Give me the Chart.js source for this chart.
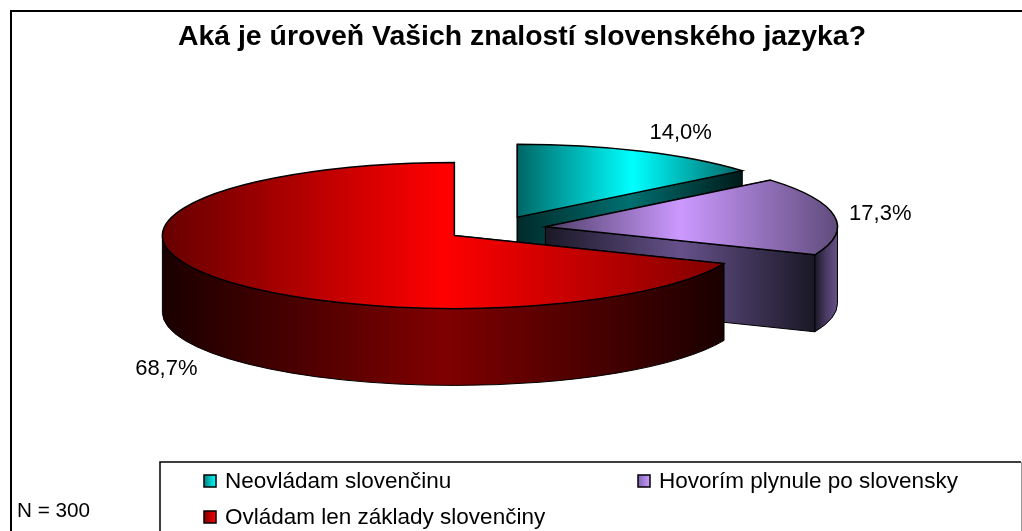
<!DOCTYPE html>
<html>
<head>
<meta charset="utf-8">
<title>Úroveň znalosti slovenského jazyka</title>
<script src="https://cdn.jsdelivr.net/npm/chart.js@4"></script>
<style>
    html, body { margin: 0; padding: 0; background: #fff; overflow: hidden; }
    canvas { display: block; }
</style>
</head>
<body>
<canvas id="pie-chart" width="1022" height="531"></canvas>
<script>
const chartTitle = "Aká je úroveň Vašich znalostí slovenského jazyka?";
const sampleNote = "N = 300";
const categories = ["Neovládam slovenčinu", "Hovorím plynule po slovensky", "Ovládam len základy slovenčiny"];
const shares = [14.0, 17.3, 68.7];

// look of the 3D pie
const tilt = 0.25;
const explode = 50;
const depth = 77;
const fontName = '"Liberation Sans", Arial, sans-serif';

// horizontal shading per slice: [from x, to x, colours left/peak/right, peak position]
const topShade = [
    [517, 740, ["#006666", "#00ffff", "#006666"], 0.52],
    [546, 838, ["#4d3d66", "#cc99ff", "#5f4c7c"], 0.46],
    [162, 725, ["#660000", "#ff0000", "#800000"], 0.50]
];
const edgeShade = [
    ["#002a2a", "#007070", "#001a1a"],
    ["#1a1826", "#66518a", "#1a1826"],
    ["#1a0000", "#800000", "#1a0000"]
];
const rimShade = [
    ["#002a2a", "#007070", "#001a1a"],
    ["#1a1826", "#4a3b62", "#66518a"],
    ["#1a0000", "#800000", "#1a0000"]
];
const legendShade = [["#008080", "#00ffff"], ["#8066b3", "#cc99ff"], ["#800000", "#ff0000"]];
const labelNudge = [[39, -20], [46, -4], [-45, 14]];

const canvas = document.getElementById("pie-chart");
const ctx = canvas.getContext("2d");

function shade(x0, x1, colors, peak) {
    const g = ctx.createLinearGradient(x0, 0, x1, 0);
    g.addColorStop(0, colors[0]);
    g.addColorStop(peak === undefined ? 0.5 : peak, colors[1]);
    g.addColorStop(1, colors[2]);
    return g;
}

const pie3d = {
    id: "pie3d",
    beforeDatasetDraw(chart, args) {
        const c = chart.ctx;
        args.meta.data.forEach((arc, i) => {
            const mid = (arc.startAngle + arc.endAngle) / 2;
            const cx = arc.x, cy = arc.y;
            const ax = cx + Math.cos(mid) * explode;
            const ay = cy + Math.sin(mid) * explode * tilt;
            const r = arc.outerRadius, ry = r * tilt;
            const rimPoint = a => [ax + Math.cos(a) * r, ay + Math.sin(a) * ry];

            // cut faces, the back one first
            c.strokeStyle = "#000";
            c.lineWidth = 1;
            [arc.startAngle, arc.endAngle].forEach(a => {
                const p = rimPoint(a);
                c.beginPath();
                c.moveTo(ax, ay);
                c.lineTo(p[0], p[1]);
                c.lineTo(p[0], p[1] + depth);
                c.lineTo(ax, ay + depth);
                c.closePath();
                c.fillStyle = shade(Math.min(ax, p[0]), Math.max(ax, p[0]), edgeShade[i]);
                c.fill();
                c.stroke();
            });

            // outer wall, only the part facing the viewer
            const from = Math.max(arc.startAngle, 0);
            const to = Math.min(arc.endAngle, Math.PI);
            if (to > from) {
                const a = rimPoint(from), b = rimPoint(to);
                c.beginPath();
                c.ellipse(ax, ay, r, ry, 0, from, to);
                c.lineTo(b[0], b[1] + depth);
                c.ellipse(ax, ay + depth, r, ry, 0, to, from, true);
                c.lineTo(a[0], a[1]);
                c.closePath();
                const left = to >= Math.PI ? ax - r : b[0];
                const right = from <= 0 ? ax + r : a[0];
                c.fillStyle = shade(left, right, rimShade[i]);
                c.fill();
                c.stroke();
            }

            // top face is the library's own arc, squashed
            const keepX = arc.x, keepY = arc.y;
            arc.x = ax;
            arc.y = cy + Math.sin(mid) * explode;
            c.save();
            c.translate(0, cy);
            c.scale(1, tilt);
            c.translate(0, -cy);
            arc.draw(c);
            c.restore();
            arc.x = keepX;
            arc.y = keepY;

            c.beginPath();
            c.moveTo(ax, ay);
            c.ellipse(ax, ay, r, ry, 0, arc.startAngle, arc.endAngle);
            c.closePath();
            c.lineWidth = 1.5;
            c.stroke();
        });
        return false;
    },
    afterDraw(chart) {
        const c = chart.ctx;
        c.save();

        // outer frame
        c.strokeStyle = "#000";
        c.lineWidth = 2;
        c.beginPath();
        c.moveTo(11, 531);
        c.lineTo(11, 11);
        c.lineTo(1022, 11);
        c.stroke();

        c.fillStyle = "#000";
        c.textBaseline = "alphabetic";
        c.textAlign = "center";
        c.font = "bold 28.4px " + fontName;
        c.fillText(chartTitle, 522, 45);

        // value labels
        c.font = "22px " + fontName;
        chart.getDatasetMeta(0).data.forEach((arc, i) => {
            const mid = (arc.startAngle + arc.endAngle) / 2;
            const ax = arc.x + Math.cos(mid) * explode;
            const ay = arc.y + Math.sin(mid) * explode * tilt;
            const x = ax + Math.cos(mid) * arc.outerRadius + labelNudge[i][0];
            const wall = Math.sin(mid) > 0 ? depth : 0;
            const y = ay + Math.sin(mid) * arc.outerRadius * tilt + wall + labelNudge[i][1];
            c.fillText(shares[i].toFixed(1).replace(".", ",") + "%", x, y + 8);
        });

        // legend
        c.lineWidth = 1.5;
        c.beginPath();
        c.moveTo(160, 531);
        c.lineTo(160, 462);
        c.lineTo(1021, 462);
        c.stroke();
        c.strokeStyle = "#999";
        c.lineWidth = 1;
        c.beginPath();
        c.moveTo(1021.5, 462);
        c.lineTo(1021.5, 531);
        c.stroke();

        const slots = [[204, 475], [638, 475], [204, 511]];
        c.textAlign = "left";
        c.font = "22.5px " + fontName;
        categories.forEach((name, i) => {
            const [x, y] = slots[i];
            const g = c.createLinearGradient(x, 0, x + 12, 0);
            g.addColorStop(0, legendShade[i][0]);
            g.addColorStop(1, legendShade[i][1]);
            c.fillStyle = g;
            c.fillRect(x, y, 12, 12);
            c.strokeStyle = "#000";
            c.lineWidth = 1.5;
            c.strokeRect(x, y, 12, 12);
            c.fillStyle = "#000";
            c.fillText(name, x + 21, y + 13);
        });

        c.font = "20.7px " + fontName;
        c.fillText(sampleNote, 17, 517);
        c.restore();
    }
};

new Chart(ctx, {
    type: "pie",
    data: {
        labels: categories,
        datasets: [{
            data: shares,
            backgroundColor: topShade.map(s => shade(s[0], s[1], s[2], s[3])),
            borderWidth: 0
        }]
    },
    options: {
        responsive: false,
        animation: false,
        radius: 292,
        layout: { padding: { left: 0, right: 30, top: 0, bottom: 74 } },
        plugins: {
            legend: { display: false },
            title: { display: false },
            tooltip: { enabled: false }
        }
    },
    plugins: [pie3d]
});
</script>
</body>
</html>
